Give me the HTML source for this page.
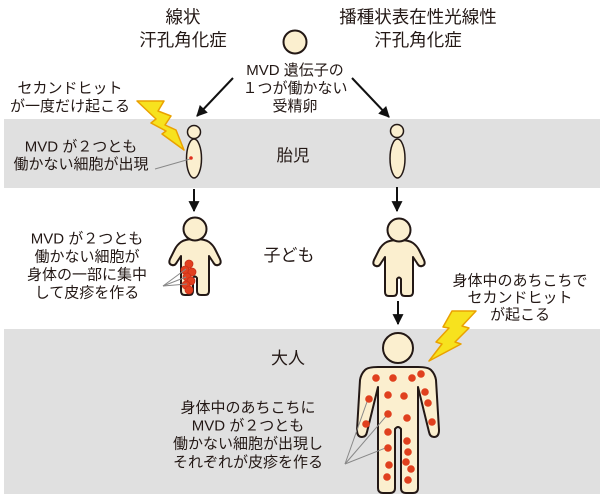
<!DOCTYPE html>
<html>
<head>
<meta charset="utf-8">
<style>
  html,body{margin:0;padding:0;background:#fff;}
  svg{display:block;}
  text{font-family:"Liberation Sans","Noto Sans CJK JP",sans-serif;fill:#231815;}
</style>
</head>
<body>
<svg width="600" height="494" viewBox="0 0 600 494" xmlns="http://www.w3.org/2000/svg">
  <defs>
    <marker id="ah" viewBox="0 0 10 10" refX="9" refY="5" markerWidth="6" markerHeight="5.5" orient="auto" markerUnits="strokeWidth">
      <path d="M0,0 L10,5 L0,10 Z" fill="#111"/>
    </marker>
  </defs>

  <!-- grey bands -->
  <rect x="4" y="119" width="596" height="69" fill="#e0e0e0"/>
  <rect x="4" y="329" width="596" height="165" fill="#e0e0e0"/>

  <!-- titles -->
  <g font-size="17.5" text-anchor="middle">
    <text x="183" y="23">線状</text>
    <text x="183" y="46">汗孔角化症</text>
    <text x="418" y="23">播種状表在性光線性</text>
    <text x="418" y="46">汗孔角化症</text>
  </g>

  <!-- fertilized egg -->
  <circle cx="295" cy="42" r="11.5" fill="#fbefcf" stroke="#231815" stroke-width="2"/>
  <g font-size="15" text-anchor="middle">
    <text x="295" y="75">MVD 遺伝子の</text>
    <text x="295" y="93">１つが働かない</text>
    <text x="295" y="111">受精卵</text>
  </g>

  <!-- diagonal arrows -->
  <line x1="233" y1="78" x2="197" y2="116" stroke="#111" stroke-width="2" marker-end="url(#ah)"/>
  <line x1="352" y1="78" x2="389" y2="117" stroke="#111" stroke-width="2" marker-end="url(#ah)"/>

  <!-- lightning 1 -->
  <polygon points="137,101 164,101 158,111 171,116 165,125 176,130 184,150 162,134 166,131 151,123 156,119" fill="#f7e21e" stroke="#eaa100" stroke-width="1.5" stroke-linejoin="round"/>
  <!-- lightning 2 -->
  <polygon points="452,311 476,311 462,326 469,328 455,342 461,344 429,361 442,344 436,342 449,328 443,327" fill="#f7e21e" stroke="#eaa100" stroke-width="1.5" stroke-linejoin="round"/>

  <!-- second hit text left -->
  <g font-size="15" text-anchor="middle">
    <text x="70" y="93">セカンドヒット</text>
    <text x="70" y="111">が一度だけ起こる</text>
  </g>

  <!-- fetus band -->
  <g font-size="15" text-anchor="middle">
    <text x="81" y="151.5">MVD が２つとも</text>
    <text x="81" y="169">働かない細胞が出現</text>
  </g>
  <text x="293" y="161" font-size="16.5" text-anchor="middle">胎児</text>

  <!-- left fetus -->
  <circle cx="194" cy="132" r="6.5" fill="#fbefcf" stroke="#231815" stroke-width="1.5"/>
  <ellipse cx="194" cy="158.5" rx="7.5" ry="19.5" fill="#fbefcf" stroke="#231815" stroke-width="1.5"/>
  <line x1="155" y1="169" x2="190" y2="159" stroke="#888" stroke-width="1"/>
  <circle cx="191" cy="158" r="1.8" fill="#e0301e"/>

  <!-- right fetus -->
  <circle cx="397" cy="131" r="6.5" fill="#fbefcf" stroke="#231815" stroke-width="1.5"/>
  <ellipse cx="397.5" cy="158.5" rx="7.5" ry="19.5" fill="#fbefcf" stroke="#231815" stroke-width="1.5"/>

  <!-- down arrows -->
  <line x1="194" y1="189" x2="194" y2="211" stroke="#111" stroke-width="2" marker-end="url(#ah)"/>
  <line x1="397" y1="187" x2="397" y2="211" stroke="#111" stroke-width="2" marker-end="url(#ah)"/>
  <line x1="398" y1="301" x2="398" y2="324" stroke="#111" stroke-width="2" marker-end="url(#ah)"/>

  <!-- children -->
  <text x="289" y="261" font-size="17" text-anchor="middle">子ども</text>

  <g transform="translate(195,229)">
    <path d="M-14,13 Q-10,10 0,10 Q10,10 14,13 Q18,16 20,20 L25,30 Q27,35 23,36 Q20,37 18,33 L14,27 L14,62 Q14,66 10,66 L6,66 Q2,66 2,62 L2,49 Q0,46 -2,49 L-2,62 Q-2,66 -6,66 L-10,66 Q-14,66 -14,62 L-14,27 L-18,33 Q-20,37 -23,36 Q-27,35 -25,30 L-20,20 Q-18,16 -14,13 Z" fill="#fbefcf" stroke="#231815" stroke-width="2" stroke-linejoin="round"/>
    <circle cx="0" cy="0" r="11.5" fill="#fbefcf" stroke="#231815" stroke-width="2"/>
  </g>
  <g fill="#e2401f" stroke="#c8301a" stroke-width="0.8">
    <circle cx="189" cy="264" r="4"/>
    <circle cx="185" cy="270" r="4"/>
    <circle cx="192" cy="272" r="4"/>
    <circle cx="187" cy="277" r="4"/>
    <circle cx="191" cy="281" r="4"/>
    <circle cx="186" cy="285" r="4"/>
    <circle cx="189" cy="290" r="4"/>
  </g>
  <g stroke="#888" stroke-width="1">
    <line x1="163" y1="286" x2="186" y2="269"/>
    <line x1="163" y1="286" x2="186" y2="277"/>
    <line x1="163" y1="286" x2="187" y2="284"/>
  </g>
  <g font-size="15" text-anchor="middle">
    <text x="87" y="243.5">MVD が２つとも</text>
    <text x="87" y="261.5">働かない細胞が</text>
    <text x="87" y="279.5">身体の一部に集中</text>
    <text x="87" y="297.5">して皮疹を作る</text>
  </g>

  <g transform="translate(399,230)">
    <path d="M-14,13 Q-10,10 0,10 Q10,10 14,13 Q18,16 20,20 L25,30 Q27,35 23,36 Q20,37 18,33 L14,27 L14,62 Q14,66 10,66 L6,66 Q2,66 2,62 L2,49 Q0,46 -2,49 L-2,62 Q-2,66 -6,66 L-10,66 Q-14,66 -14,62 L-14,27 L-18,33 Q-20,37 -23,36 Q-27,35 -25,30 L-20,20 Q-18,16 -14,13 Z" fill="#fbefcf" stroke="#231815" stroke-width="2" stroke-linejoin="round"/>
    <circle cx="0" cy="0" r="11.5" fill="#fbefcf" stroke="#231815" stroke-width="2"/>
  </g>

  <g font-size="15" text-anchor="middle">
    <text x="520" y="285.5">身体中のあちこちで</text>
    <text x="520" y="302.5">セカンドヒット</text>
    <text x="520" y="319.5">が起こる</text>
  </g>

  <!-- adult -->
  <text x="288" y="364" font-size="17" text-anchor="middle">大人</text>
  <g transform="translate(398,348)">
    <path d="M-33,22 Q-30,19 -20,19 L20,19 Q30,19 33,22 Q37,26 38,32 L41,82 Q41,89 36,89 Q32,89 31,84 L20,39 L20,140 Q20,145 15,145 L8,145 Q3,145 3,140 L3,81 Q0,77 -3,81 L-3,140 Q-3,145 -8,145 L-15,145 Q-20,145 -20,140 L-20,39 L-31,84 Q-32,89 -36,89 Q-41,89 -41,82 L-38,32 Q-37,26 -33,22 Z" fill="#fbefcf" stroke="#231815" stroke-width="2" stroke-linejoin="round"/>
    <circle cx="0" cy="0" r="15" fill="#fbefcf" stroke="#231815" stroke-width="2"/>
  </g>
  <g stroke="#888" stroke-width="1">
    <line x1="345" y1="464" x2="368" y2="399"/>
    <line x1="345" y1="464" x2="388" y2="414"/>
    <line x1="345" y1="464" x2="388" y2="447"/>
  </g>
  <g fill="#e0401e">
    <circle cx="376" cy="378" r="3.8"/>
    <circle cx="393" cy="378" r="3.8"/>
    <circle cx="412" cy="378" r="3.8"/>
    <circle cx="421" cy="374" r="3.8"/>
    <circle cx="425" cy="392" r="3.8"/>
    <circle cx="428" cy="403" r="3.8"/>
    <circle cx="432" cy="422" r="3.8"/>
    <circle cx="369" cy="399" r="3.8"/>
    <circle cx="366" cy="424" r="3.8"/>
    <circle cx="388" cy="395" r="3.8"/>
    <circle cx="404" cy="396" r="3.8"/>
    <circle cx="388" cy="414" r="3.8"/>
    <circle cx="407" cy="418" r="3.8"/>
    <circle cx="388" cy="432" r="3.8"/>
    <circle cx="407" cy="441" r="3.8"/>
    <circle cx="388" cy="448" r="3.8"/>
    <circle cx="408" cy="452" r="3.8"/>
    <circle cx="406" cy="462" r="3.8"/>
    <circle cx="411" cy="469" r="3.8"/>
    <circle cx="389" cy="465" r="3.8"/>
    <circle cx="387" cy="477" r="3.8"/>
    <circle cx="408" cy="480" r="3.8"/>
  </g>
  <g font-size="15" text-anchor="middle">
    <text x="248" y="412.5">身体中のあちこちに</text>
    <text x="248" y="430.5">MVD が２つとも</text>
    <text x="248" y="448.5">働かない細胞が出現し</text>
    <text x="248" y="467">それぞれが皮疹を作る</text>
  </g>
</svg>
</body>
</html>
